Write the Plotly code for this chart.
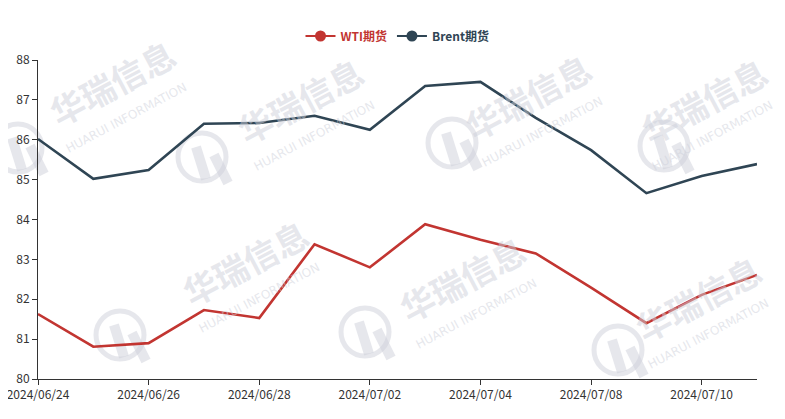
import plotly.graph_objects as go

dates = ["2024/06/24", "2024/06/25", "2024/06/26", "2024/06/27", "2024/06/28",
         "2024/07/01", "2024/07/02", "2024/07/03", "2024/07/04", "2024/07/05",
         "2024/07/08", "2024/07/09", "2024/07/10", "2024/07/11"]
wti = [81.63, 80.81, 80.90, 81.73, 81.53, 83.38, 82.80, 83.88, 83.49, 83.15,
       82.29, 81.40, 82.11, 82.61]
brent = [86.02, 85.02, 85.24, 86.40, 86.42, 86.60, 86.25, 87.35, 87.45, 86.55,
         85.74, 84.66, 85.09, 85.39]
tick_labels = [dates[i] for i in range(0, len(dates), 2)]

RED = "#c23531"
DARK = "#2f4554"
WM = "rgba(205,208,218,0.5)"

OFF = 8  # page body margin
W, H = 785 - OFF, 419 - OFF
L, R, T, B = 30, 28, 52, 40
PW, PH = W - L - R, H - T - B


def px(x):
    return (x - OFF - L) / PW


def py(y):
    return (H - B - (y - OFF)) / PH


fig = go.Figure()
fig.add_trace(go.Scatter(x=dates, y=wti, mode="lines", line=dict(color=RED, width=2.6),
                         showlegend=False, hoverinfo="x+y"))
fig.add_trace(go.Scatter(x=dates, y=brent, mode="lines", line=dict(color=DARK, width=2.6),
                         showlegend=False, hoverinfo="x+y"))
fig.add_trace(go.Scatter(x=[None], y=[None], mode="lines+markers",
                         line=dict(color=RED, width=2), marker=dict(size=11, color=RED),
                         name="<b><span style='color:%s'>WTI期货</span></b>" % RED))
fig.add_trace(go.Scatter(x=[None], y=[None], mode="lines+markers",
                         line=dict(color=DARK, width=2), marker=dict(size=11, color=DARK),
                         name="<b><span style='color:%s'>Brent期货</span></b>" % DARK))

annotations = []
shapes = []
# watermark: (text center x, y, icon center x, y, sub-text x offset) in reference pixels
wms = [(112, 82, 18, 148, 14), (300, 100, 202, 157, 14), (528, 96, 452, 143, 14),
       (704, 100, 664, 146, 8), (245, 262, 120, 335, 14), (462, 278, 365, 332, 14),
       (698, 298, 618, 350, 10)]
for tx, ty, ix, iy, dx in wms:
    annotations.append(dict(text="<b>华瑞信息</b>", x=px(tx), y=py(ty), xref="paper", yref="paper",
                            xanchor="center", yanchor="middle",
                            showarrow=False, textangle=-28,
                            font=dict(size=34, color=WM, family="Noto Sans CJK SC")))
    annotations.append(dict(text="HUARUI INFORMATION", x=px(tx + dx), y=py(ty + 36),
                            xref="paper", yref="paper", xanchor="center", yanchor="middle",
                            showarrow=False, textangle=-28,
                            font=dict(size=12, color=WM, family="DejaVu Sans")))
    r = 24
    shapes.append(dict(type="circle", xref="paper", yref="paper", layer="below",
                       x0=px(ix - r), x1=px(ix + r), y0=py(iy + r), y1=py(iy - r),
                       line=dict(color=WM, width=5)))
    shapes.append(dict(type="line", xref="paper", yref="paper", layer="below",
                       x0=px(ix - 6), y0=py(iy - 10), x1=px(ix + 4), y1=py(iy + 22),
                       line=dict(color=WM, width=10)))
    shapes.append(dict(type="line", xref="paper", yref="paper", layer="below",
                       x0=px(ix + 12), y0=py(iy - 2), x1=px(ix + 26), y1=py(iy + 26),
                       line=dict(color=WM, width=10)))

fig.update_layout(
    width=W, height=H,
    margin=dict(l=L, r=R, t=T, b=B, autoexpand=False),
    plot_bgcolor="white", paper_bgcolor="white",
    font=dict(family="Noto Sans CJK SC, Noto Sans, sans-serif", size=12, color="#333"),
    legend=dict(orientation="h", x=0.5, xanchor="center", y=py(36), yanchor="middle",
                font=dict(size=12), itemwidth=30, tracegroupgap=0,
                bgcolor="rgba(0,0,0,0)"),
    annotations=annotations,
    shapes=shapes,
    hovermode="x",
)
fig.update_xaxes(type="category", categoryorder="array", categoryarray=dates,
                 range=[0, len(dates) - 1], tickmode="array", tickvals=tick_labels,
                 ticktext=tick_labels, showline=True, linecolor="#333", linewidth=1,
                 ticks="outside", ticklen=5, tickcolor="#333", showgrid=False,
                 zeroline=False, automargin=False, tickfont=dict(size=12, color="#333"))
fig.update_yaxes(range=[80, 88], dtick=1, showline=True, linecolor="#333", linewidth=1,
                 ticks="outside", ticklen=5, tickcolor="#333", showgrid=False,
                 zeroline=False, automargin=False, tickfont=dict(size=12, color="#333"))

fig.write_html("out.html")
